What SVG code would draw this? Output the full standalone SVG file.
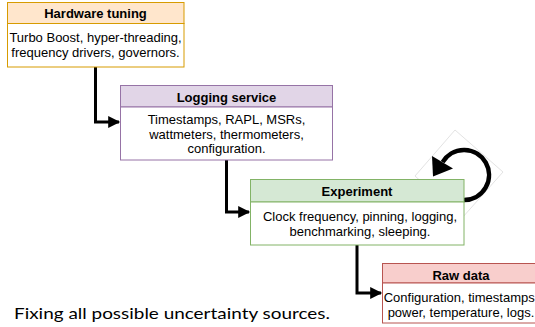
<svg xmlns="http://www.w3.org/2000/svg" width="535" height="327" viewBox="0 0 535 327">
<style>
text{font-family:"Liberation Sans",Arial,sans-serif;font-size:13px;fill:#000;text-anchor:middle}
.h{font-weight:bold}
.body{fill:#fff}
.conn{fill:none;stroke:#000;stroke-width:3}
</style>
<defs>
<marker id="arr" viewBox="0 0 10 10" refX="9" refY="5" markerWidth="4.5" markerHeight="4" orient="auto" markerUnits="strokeWidth">
<path d="M0,0 L10,5 L0,10 Z" fill="#000"/>
</marker>
</defs>
<rect width="535" height="327" fill="#fff"/>
<g id="connectors">
<path class="conn" d="M95.5,67 V122 H119" marker-end="url(#arr)"/>
<path class="conn" d="M226.5,160 V212 H249" marker-end="url(#arr)"/>
<path class="conn" d="M357,245 V293 H381" marker-end="url(#arr)"/>
</g>
<g id="loop">
<polygon points="455,130 503,172 462,218 415,176" fill="none" stroke="#e3e3e3" stroke-width="1"/>
<path d="M464,200 A25,25 0 1 0 442.6,162.1" fill="none" stroke="#000" stroke-width="4.5"/>
<polygon points="453,168.5 432,156 433,176.5" fill="#000"/>
</g>
<g id="hardware">
<rect x="7.5" y="2.5" width="176.5" height="21" fill="#ffe6cc" stroke="#d79b00"/>
<rect x="7.5" y="23.5" width="176.5" height="43.5" class="body" stroke="#d79b00"/>
<text x="95.5" y="18" class="h">Hardware tuning</text>
<text x="95.5" y="42">Turbo Boost, hyper-threading,</text>
<text x="95.5" y="57">frequency drivers, governors.</text>
</g>
<g id="logging">
<rect x="120.5" y="85.5" width="212" height="21.5" fill="#e1d5e7" stroke="#9673a6"/>
<rect x="120.5" y="107" width="212" height="53" class="body" stroke="#9673a6"/>
<text x="226.5" y="102" class="h">Logging service</text>
<text x="226.5" y="124">Timestamps, RAPL, MSRs,</text>
<text x="226.5" y="138.5">wattmeters, thermometers,</text>
<text x="226.5" y="153">configuration.</text>
</g>
<g id="experiment">
<rect x="250.5" y="179.5" width="213.5" height="22.5" fill="#d5e8d4" stroke="#82b366"/>
<rect x="250.5" y="202" width="213.5" height="43" class="body" stroke="#82b366"/>
<text x="357" y="196" class="h">Experiment</text>
<text x="360" y="221">Clock frequency, pinning, logging,</text>
<text x="360" y="236">benchmarking, sleeping.</text>
</g>
<g id="rawdata">
<rect x="382.5" y="263.5" width="158" height="19.5" fill="#f8cecc" stroke="#b85450"/>
<rect x="382.5" y="283" width="158" height="40" class="body" stroke="#b85450"/>
<text x="461" y="280" class="h">Raw data</text>
<text x="461" y="302">Configuration, timestamps,</text>
<text x="461" y="316.5">power, temperature, logs.</text>
</g>
<text x="14" y="318.5" style="font-family:Lato,'Open Sans',sans-serif;font-size:16px;text-anchor:start" textLength="316" lengthAdjust="spacingAndGlyphs">Fixing all possible uncertainty sources.</text>
</svg>
